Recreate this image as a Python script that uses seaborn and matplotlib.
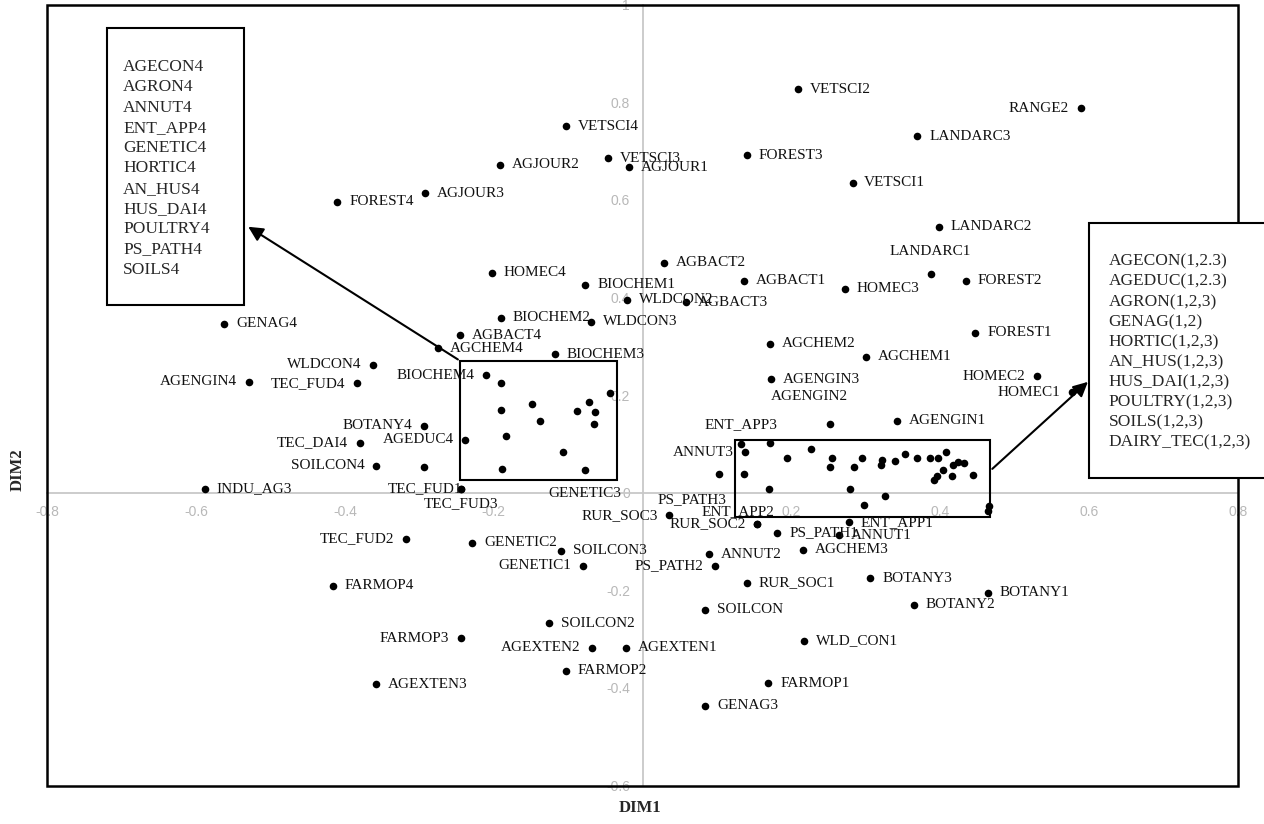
import matplotlib.pyplot as plt
import seaborn as sns
import pandas as pd
import numpy as np
from matplotlib.patches import Rectangle

# labelled category points (DIM1, DIM2)
names = [
    "VETSCI4", "VETSCI3", "AGJOUR1", "AGJOUR2", "AGJOUR3", "FOREST4", "HOMEC4",
    "BIOCHEM1", "WLDCON2", "BIOCHEM2", "WLDCON3", "AGBACT4", "AGCHEM4", "BIOCHEM3",
    "GENAG4", "WLDCON4", "AGENGIN4", "TEC_FUD4", "BIOCHEM4", "BOTANY4", "TEC_DAI4",
    "AGEDUC4", "SOILCON4", "INDU_AG3", "TEC_FUD1", "TEC_FUD3", "GENETIC3",
    "VETSCI2", "RANGE2", "LANDARC3", "FOREST3", "VETSCI1", "LANDARC2", "LANDARC1",
    "FOREST2", "AGBACT2", "AGBACT1", "HOMEC3", "AGBACT3", "FOREST1", "AGCHEM2",
    "AGCHEM1", "HOMEC2", "HOMEC1", "AGENGIN3", "AGENGIN2", "AGENGIN1", "ENT_APP3",
    "ANNUT3", "PS_PATH3", "RUR_SOC3", "ENT_APP2", "RUR_SOC2", "PS_PATH1", "ENT_APP1",
    "ANNUT1", "ANNUT2", "AGCHEM3", "PS_PATH2", "GENETIC2", "SOILCON3", "GENETIC1",
    "TEC_FUD2", "FARMOP4", "RUR_SOC1", "BOTANY3", "BOTANY1", "BOTANY2", "SOILCON",
    "SOILCON2", "FARMOP3", "AGEXTEN2", "AGEXTEN1", "WLD_CON1", "FARMOP2", "AGEXTEN3",
    "FARMOP1", "GENAG3",
]
dim1 = [
    -0.103, -0.047, -0.018, -0.191, -0.292, -0.410, -0.203,
    -0.077, -0.021, -0.190, -0.069, -0.245, -0.275, -0.118,
    -0.562, -0.362, -0.529, -0.384, -0.210, -0.294, -0.380,
    -0.238, -0.358, -0.588, -0.244, -0.244, -0.078,
    0.209, 0.589, 0.369, 0.140, 0.282, 0.398, 0.387,
    0.434, 0.029, 0.136, 0.272, 0.058, 0.447, 0.171,
    0.300, 0.530, 0.577, 0.173, 0.252, 0.342, 0.132,
    0.138, 0.103, 0.036, 0.154, 0.154, 0.181, 0.277,
    0.264, 0.089, 0.216, 0.097, -0.229, -0.110, -0.080,
    -0.318, -0.416, 0.140, 0.306, 0.464, 0.364, 0.084,
    -0.126, -0.244, -0.068, -0.022, 0.217, -0.103, -0.358,
    0.169, 0.084,
]
dim2 = [
    0.751, 0.685, 0.667, 0.672, 0.614, 0.596, 0.451,
    0.426, 0.395, 0.359, 0.350, 0.323, 0.296, 0.284,
    0.346, 0.262, 0.227, 0.224, 0.241, 0.137, 0.102,
    0.109, 0.055, 0.008, 0.008, 0.008, 0.047,
    0.827, 0.788, 0.730, 0.691, 0.635, 0.545, 0.449,
    0.434, 0.471, 0.434, 0.418, 0.390, 0.328, 0.305,
    0.279, 0.239, 0.206, 0.233, 0.141, 0.147, 0.100,
    0.083, 0.038, -0.046, -0.064, -0.064, -0.082, -0.061,
    -0.087, -0.126, -0.117, -0.150, -0.103, -0.119, -0.150,
    -0.095, -0.191, -0.185, -0.175, -0.205, -0.230, -0.240,
    -0.268, -0.298, -0.318, -0.318, -0.304, -0.365, -0.392,
    -0.390, -0.437,
]

# unlabelled points inside the two zoom rectangles
extra_dim1 = [
    -0.294, -0.190, -0.190, -0.149, -0.138, -0.183, -0.107, -0.189, -0.088, -0.072,
    -0.064, -0.065, -0.044,
    0.136, 0.170, 0.252, 0.284, 0.320, 0.339, 0.278, 0.325, 0.297, 0.391, 0.395,
    0.404, 0.416, 0.417, 0.432, 0.444, 0.466, 0.464, 0.171, 0.194, 0.226, 0.255,
    0.295, 0.322, 0.353, 0.368, 0.386, 0.397, 0.408, 0.424,
]
extra_dim2 = [
    0.053, 0.225, 0.169, 0.182, 0.147, 0.116, 0.083, 0.049, 0.167, 0.186,
    0.165, 0.140, 0.205,
    0.038, 0.007, 0.053, 0.052, 0.057, 0.064, 0.007, -0.006, -0.025, 0.026, 0.035,
    0.047, 0.034, 0.057, 0.060, 0.036, -0.027, -0.037, 0.102, 0.071, 0.090, 0.071,
    0.071, 0.067, 0.079, 0.071, 0.071, 0.071, 0.083, 0.063,
]

left_box_items = ["AGECON4", "AGRON4", "ANNUT4", "ENT_APP4", "GENETIC4", "HORTIC4",
                  "AN_HUS4", "HUS_DAI4", "POULTRY4", "PS_PATH4", "SOILS4"]
right_box_items = ["AGECON(1,2.3)", "AGEDUC(1,2.3)", "AGRON(1,2,3)", "GENAG(1,2)",
                   "HORTIC(1,2,3)", "AN_HUS(1,2,3)", "HUS_DAI(1,2,3)", "POULTRY(1,2,3)",
                   "SOILS(1,2,3)", "DAIRY_TEC(1,2,3)"]

# label placement (offset in points, alignment); default is to the right of the dot
left_side = {"RANGE2", "WLDCON4", "AGENGIN4", "TEC_FUD4", "BIOCHEM4", "BOTANY4",
             "TEC_DAI4", "AGEDUC4", "SOILCON4", "HOMEC2", "HOMEC1", "ANNUT3",
             "RUR_SOC3", "RUR_SOC2", "PS_PATH2", "GENETIC1", "TEC_FUD2", "FARMOP3",
             "AGEXTEN2"}
special = {
    "TEC_FUD1": ((1, 0), "right"),
    "TEC_FUD3": ((0, -11), "center"),
    "GENETIC3": ((0, -17), "center"),
    "LANDARC1": ((0, 16), "center"),
    "AGENGIN2": ((-15, 20), "center"),
    "ENT_APP3": ((0, 14), "center"),
    "PS_PATH3": ((-20, -18), "center"),
    "ENT_APP2": ((-14, 9), "center"),
}

df = pd.DataFrame({"dim1": dim1 + extra_dim1, "dim2": dim2 + extra_dim2})

sns.set_theme(style="white")
plt.rcParams['font.family'] = ['Liberation Serif', 'DejaVu Serif']

fig = plt.figure(figsize=(12.64, 8.24), dpi=100)
ax = fig.add_axes([0.0373, 0.0467, 0.9422, 0.9476])

sns.scatterplot(data=df, x="dim1", y="dim2", color="black", s=30, linewidth=0,
                ax=ax, legend=False, zorder=4)

ax.set_xlim(-0.8, 0.8)
ax.set_ylim(-0.6, 1.0)

# axes through the origin, grey, with grey tick labels
for side in ["top", "right"]:
    ax.spines[side].set_visible(False)
for side in ["left", "bottom"]:
    ax.spines[side].set_position(("data", 0))
    ax.spines[side].set_color("#c8c8c8")
    ax.spines[side].set_linewidth(1.3)
    ax.spines[side].set_zorder(1)

xt = np.round(np.arange(-0.8, 0.81, 0.2), 1)
yt = np.round(np.arange(-0.6, 1.01, 0.2), 1)
ax.set_xticks(xt)
ax.set_xticklabels(["" if v == 0 else f"{v:g}" for v in xt])
ax.set_yticks(yt)
ax.set_yticklabels([f"{v:g}" for v in yt])
ax.tick_params(axis="both", colors="#c8c8c8", labelcolor="#b8b8b8", labelsize=10,
               length=4, width=1, pad=5)
for lab in ax.get_xticklabels() + ax.get_yticklabels():
    lab.set_fontfamily("Liberation Sans")
ax.set_xlabel("")
ax.set_ylabel("")

ax.add_patch(Rectangle((0, 0), 1, 1, transform=ax.transAxes, fill=False,
                       ec="black", lw=1.8, zorder=6, clip_on=False))

# point labels
for n, x, y in zip(names, dim1, dim2):
    if n in special:
        off, ha = special[n]
    elif n in left_side:
        off, ha = (-8.5, 0), "right"
    else:
        off, ha = (8.5, 0), "left"
    ax.annotate(n, (x, y), xytext=off, textcoords="offset points", ha=ha,
                va="center", fontsize=11, color="#111111", zorder=5)

# zoom rectangles
ax.add_patch(Rectangle((-0.245, 0.027), 0.211, 0.243, fill=False, ec="black", lw=1.5, zorder=3))
ax.add_patch(Rectangle((0.124, -0.049), 0.343, 0.157, fill=False, ec="black", lw=1.5, zorder=3))

# legend-like boxes
ax.add_patch(Rectangle((-0.72, 0.385), 0.185, 0.568, fc="white", ec="black", lw=1.5, zorder=7))
ax.add_patch(Rectangle((0.600, 0.030), 0.28, 0.523, fc="white", ec="black", lw=1.5,
                       zorder=7, clip_on=False))
for i, t in enumerate(left_box_items):
    ax.text(-0.698, 0.872 - i * 0.0415, t, ha="left", va="center", fontsize=12.5, zorder=8)
for i, t in enumerate(right_box_items):
    ax.text(0.626, 0.473 - i * 0.041, t, ha="left", va="center", fontsize=12.5,
            zorder=8, clip_on=False)

# arrows from rectangles to the boxes
ax.annotate("", xy=(-0.533, 0.548), xytext=(-0.245, 0.270),
            arrowprops=dict(arrowstyle="-|>", color="black", lw=1.5, mutation_scale=22),
            zorder=8)
ax.annotate("", xy=(0.601, 0.231), xytext=(0.467, 0.045),
            arrowprops=dict(arrowstyle="-|>", color="black", lw=1.5, mutation_scale=22),
            zorder=8)

fig.text(18 / 1264, 1 - 470 / 824, "DIM2", rotation=90, ha="center", va="center",
         fontsize=12, fontweight="bold")
fig.text(640 / 1264, 1 - 808 / 824, "DIM1", ha="center", va="center",
         fontsize=12, fontweight="bold")

fig.savefig("out.png", dpi=100)
